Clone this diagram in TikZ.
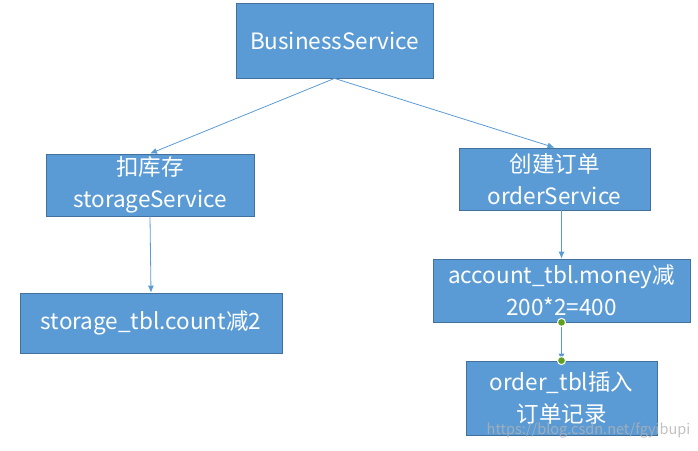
\documentclass[tikz,border=0pt]{standalone}
\usepackage{fontspec}
\setmainfont{Noto Sans CJK SC}
\usetikzlibrary{arrows.meta}
\definecolor{BoxClr}{HTML}{5B9BD5}
\definecolor{EdgeClr}{HTML}{41719C}
\definecolor{DotClr}{HTML}{5FA11E}

\begin{document}
\begin{tikzpicture}[x=1pt,y=-1pt,
  svcbox/.style={draw=EdgeClr,line width=0.8pt,fill=BoxClr,text=white,
    font=\fontsize{22.5}{32}\selectfont,align=center,inner sep=0pt},
  flow/.style={draw=BoxClr,line width=0.8pt,-{Latex[length=7pt,width=6pt]}},
  handle/.style={circle,fill=DotClr,draw=white,line width=1pt,inner sep=0pt,minimum size=8pt}]
\useasboundingbox (0,0) rectangle (698,450);

\node[svcbox,minimum width=197pt,minimum height=75pt] (biz) at (334.5,40.5) {BusinessService};

\node[svcbox,minimum width=208pt,minimum height=62pt] (stock) at (150,185) {扣库存\\storageService};
\node[svcbox,minimum width=191pt,minimum height=62pt] (order) at (554.5,179) {创建订单\\orderService};

\node[svcbox,minimum width=262pt,minimum height=60pt] (stocktbl) at (151,323) {storage\_tbl.count减2};
\node[svcbox,minimum width=257pt,minimum height=63pt] (money) at (561.5,290.5) {account\_tbl.money减\\200*2=400};
\node[svcbox,minimum width=191pt,minimum height=74pt] (ordertbl) at (561.5,398) {order\_tbl插入\\订单记录};

\draw[flow] (biz.south) -- (stock.north);
\draw[flow] (biz.south) -- (order.north);
\draw[flow] (stock.south) -- (stocktbl.north);
\draw[flow] (order.south -| money.north) -- (money.north);
\draw[flow] (money.south) -- (ordertbl.north);

\node[handle] at (money.south) {};
\node[handle] at (ordertbl.north) {};

\node[text=gray!60,opacity=0.8,font=\fontsize{14.5}{16}\selectfont,anchor=east] (mark) at (694,430) {https://blog.csdn.net/fgyibupi};

\end{tikzpicture}
\end{document}
